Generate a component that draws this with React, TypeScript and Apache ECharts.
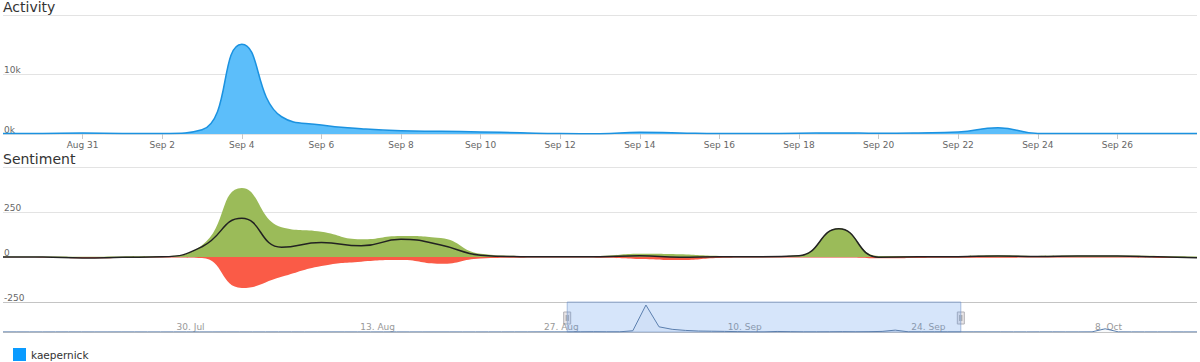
import React, { useEffect, useRef } from "react";
import * as echarts from "echarts";

// Main range: Aug 29 .. Sep 28 (daily)
const dates = [
  "Aug 29", "Aug 30", "Aug 31", "Sep 1", "Sep 2", "Sep 3", "Sep 4", "Sep 5", "Sep 6", "Sep 7",
  "Sep 8", "Sep 9", "Sep 10", "Sep 11", "Sep 12", "Sep 13", "Sep 14", "Sep 15", "Sep 16", "Sep 17",
  "Sep 18", "Sep 19", "Sep 20", "Sep 21", "Sep 22", "Sep 23", "Sep 24", "Sep 25", "Sep 26", "Sep 27",
  "Sep 28",
];
const mainTickLabels = [
  "Aug 31", "Sep 2", "Sep 4", "Sep 6", "Sep 8", "Sep 10", "Sep 12", "Sep 14",
  "Sep 16", "Sep 18", "Sep 20", "Sep 22", "Sep 24", "Sep 26",
];

const activity = [
  80, 100, 150, 100, 100, 700, 15100, 2900, 1500, 900,
  550, 450, 350, 200, 80, 60, 300, 180, 80, 80,
  120, 180, 120, 180, 340, 1050, 100, 90, 90, 90,
  90,
];

const positive = [
  3, 3, 2, 3, 5, 65, 383, 165, 140, 98,
  117, 105, 18, 6, 4, 6, 18, 15, 6, 4,
  10, 160, 6, 6, 6, 10, 6, 8, 8, 6,
  3,
];
const negative = [
  -2, -3, -7, -5, -3, -6, -172, -110, -50, -26,
  -17, -38, -8, -4, -3, -4, -11, -17, -5, -3,
  -3, -3, -7, -5, -4, -4, -3, -3, -3, -5,
  -6,
];
const net = [
  0, 0, -5, -2, 1, 57, 215, 54, 80, 62,
  98, 67, 10, 2, 1, 2, 7, -2, 1, 1,
  7, 157, -1, 1, 2, 6, 3, 5, 5, 1,
  -4,
];

// Navigator range: 17 Jul .. 16 Oct (daily)
const navDates = [
  "17. Jul", "18. Jul", "19. Jul", "20. Jul", "21. Jul", "22. Jul", "23. Jul", "24. Jul", "25. Jul", "26. Jul",
  "27. Jul", "28. Jul", "29. Jul", "30. Jul", "31. Jul",
  "1. Aug", "2. Aug", "3. Aug", "4. Aug", "5. Aug", "6. Aug", "7. Aug", "8. Aug", "9. Aug", "10. Aug",
  "11. Aug", "12. Aug", "13. Aug", "14. Aug", "15. Aug", "16. Aug", "17. Aug", "18. Aug", "19. Aug", "20. Aug",
  "21. Aug", "22. Aug", "23. Aug", "24. Aug", "25. Aug", "26. Aug", "27. Aug", "28. Aug", "29. Aug", "30. Aug",
  "31. Aug",
  "1. Sep", "2. Sep", "3. Sep", "4. Sep", "5. Sep", "6. Sep", "7. Sep", "8. Sep", "9. Sep", "10. Sep",
  "11. Sep", "12. Sep", "13. Sep", "14. Sep", "15. Sep", "16. Sep", "17. Sep", "18. Sep", "19. Sep", "20. Sep",
  "21. Sep", "22. Sep", "23. Sep", "24. Sep", "25. Sep", "26. Sep", "27. Sep", "28. Sep", "29. Sep", "30. Sep",
  "1. Oct", "2. Oct", "3. Oct", "4. Oct", "5. Oct", "6. Oct", "7. Oct", "8. Oct", "9. Oct", "10. Oct",
  "11. Oct", "12. Oct", "13. Oct", "14. Oct", "15. Oct", "16. Oct",
];
const navTickLabels = ["30. Jul", "13. Aug", "27. Aug", "10. Sep", "24. Sep", "8. Oct"];

// activity before the main range (17 Jul .. 28 Aug) and after it (29 Sep .. 16 Oct)
const navBefore = [
  60, 60, 50, 50, 60, 70, 60, 50, 50, 60,
  60, 50, 50, 60, 60, 50, 50, 60, 60, 50,
  50, 60, 60, 50, 50, 60, 60, 50, 50, 60,
  60, 50, 50, 60, 60, 50, 50, 60, 60, 70,
  70, 80, 80,
];
const navAfter = [
  90, 80, 80, 70, 70, 80, 80, 70, 70, 90,
  1800, 90, 70, 60, 60, 60, 50, 50,
];
const navValues = [...navBefore, ...activity, ...navAfter];

const selStart = "29. Aug";
const selEnd = "28. Sep";

const FONT = "DejaVu Sans";

export default function App() {
  const ref = useRef<HTMLDivElement>(null);

  useEffect(() => {
    document.body.style.margin = "0";
    const chart = echarts.init(ref.current!, null, { renderer: "svg" });

    const option: any = {
      animation: false,
      textStyle: { fontFamily: FONT },
      title: [
        {
          text: "Activity",
          left: 3,
          top: 0,
          padding: 0,
          textStyle: { fontSize: 14, fontWeight: "normal", color: "#333", fontFamily: FONT },
        },
        {
          text: "Sentiment",
          left: 3,
          top: 152,
          padding: 0,
          textStyle: { fontSize: 14, fontWeight: "normal", color: "#333", fontFamily: FONT },
        },
      ],
      legend: {
        data: [{ name: "kaepernick", icon: "rect", itemStyle: { color: "#0a9bff" } }],
        left: 8,
        top: 343,
        itemWidth: 13,
        itemHeight: 13,
        selectedMode: false,
        textStyle: { fontSize: 10.5, color: "#333", fontFamily: FONT },
      },
      grid: [
        { left: 3, right: 3, top: 15, height: 119 },
        { left: 3, right: 3, top: 167, height: 135 },
        { left: 3, right: 3, top: 302, height: 30 },
      ],
      xAxis: [
        {
          type: "category",
          gridIndex: 0,
          data: dates,
          boundaryGap: false,
          axisLine: { show: false },
          axisTick: {
            show: true,
            length: 5,
            interval: (_i: number, v: string) => mainTickLabels.includes(v),
            lineStyle: { color: "#c8c8c8" },
          },
          axisLabel: {
            interval: (_i: number, v: string) => mainTickLabels.includes(v),
            fontSize: 9,
            color: "#666",
            margin: 6,
            fontFamily: FONT,
          },
          splitLine: { show: false },
        },
        {
          type: "category",
          gridIndex: 1,
          data: dates,
          boundaryGap: false,
          axisLine: { show: false },
          axisTick: { show: false },
          axisLabel: { show: false },
          splitLine: { show: false },
        },
        {
          type: "category",
          gridIndex: 2,
          data: navDates,
          boundaryGap: false,
          axisLine: { show: false },
          axisTick: { show: false },
          axisLabel: {
            interval: (_i: number, v: string) => navTickLabels.includes(v),
            inside: false,
            margin: -10,
            align: "left",
            verticalAlign: "top",
            padding: [0, 0, 0, 3],
            fontSize: 9,
            color: "#999",
            fontFamily: FONT,
          },
          splitLine: { show: false },
        },
      ],
      yAxis: [
        {
          type: "value",
          gridIndex: 0,
          min: 0,
          max: 20000,
          interval: 10000,
          axisLine: { show: false },
          axisTick: { show: false },
          axisLabel: {
            inside: true,
            margin: 1,
            verticalAlign: "bottom",
            fontSize: 9,
            color: "#666",
            fontFamily: FONT,
            formatter: (v: number) => (v === 20000 ? "" : v / 1000 + "k"),
          },
          splitLine: { lineStyle: { color: "#e3e3e3" } },
        },
        {
          type: "value",
          gridIndex: 1,
          min: -250,
          max: 500,
          interval: 250,
          axisLine: { show: false },
          axisTick: { show: false },
          axisLabel: {
            inside: true,
            margin: 1,
            verticalAlign: "bottom",
            fontSize: 9,
            color: "#666",
            fontFamily: FONT,
            formatter: (v: number) => (v === 500 ? "" : String(v)),
          },
          splitLine: { lineStyle: { color: "#e3e3e3" } },
        },
        {
          type: "value",
          gridIndex: 2,
          min: 0,
          max: 16800,
          interval: 16800,
          axisLine: { show: false },
          axisTick: { show: false },
          axisLabel: { show: false },
          splitLine: { show: true, lineStyle: { color: "#c4c4c4" } },
        },
      ],
      series: [
        {
          name: "kaepernick",
          type: "line",
          xAxisIndex: 0,
          yAxisIndex: 0,
          data: activity,
          smooth: 0.5,
          symbol: "none",
          lineStyle: { color: "#1b92e0", width: 1.5 },
          itemStyle: { color: "#0a9bff" },
          areaStyle: { color: "#5cbefa", opacity: 1 },
        },
        {
          name: "positive",
          type: "line",
          xAxisIndex: 1,
          yAxisIndex: 1,
          data: positive,
          smooth: 0.5,
          symbol: "none",
          lineStyle: { width: 0, color: "#9bbb59" },
          areaStyle: { color: "#9bbb59", opacity: 1 },
        },
        {
          name: "negative",
          type: "line",
          xAxisIndex: 1,
          yAxisIndex: 1,
          data: negative,
          smooth: 0.5,
          symbol: "none",
          lineStyle: { width: 0, color: "#fa5b47" },
          areaStyle: { color: "#fa5b47", opacity: 1 },
        },
        {
          name: "net",
          type: "line",
          xAxisIndex: 1,
          yAxisIndex: 1,
          data: net,
          smooth: 0.5,
          symbol: "none",
          z: 5,
          lineStyle: { color: "#222", width: 1.5 },
        },
        {
          name: "navigator",
          type: "line",
          xAxisIndex: 2,
          yAxisIndex: 2,
          data: navValues,
          symbol: "none",
          lineStyle: { color: "#5b7fae", width: 1 },
          areaStyle: { color: "rgba(69,114,167,0.05)" },
          markArea: {
            silent: true,
            itemStyle: {
              color: "rgba(90,150,235,0.25)",
              borderColor: "rgba(120,150,200,0.6)",
              borderWidth: 1,
            },
            data: [[{ xAxis: selStart }, { xAxis: selEnd }]],
          },
        },
      ],
    };

    chart.setOption(option);

    const x0 = chart.convertToPixel({ xAxisIndex: 2 }, selStart) as number;
    const x1 = chart.convertToPixel({ xAxisIndex: 2 }, selEnd) as number;
    const handle = (cx: number) => ({
      type: "group",
      children: [
        {
          type: "rect",
          shape: { x: cx - 3.5, y: 312, width: 7, height: 12 },
          style: { fill: "#ebe7e8", stroke: "#b2b1b6", lineWidth: 1 },
        },
        {
          type: "line",
          shape: { x1: cx - 1, y1: 315, x2: cx - 1, y2: 321 },
          style: { stroke: "#999", lineWidth: 1 },
        },
        {
          type: "line",
          shape: { x1: cx + 1, y1: 315, x2: cx + 1, y2: 321 },
          style: { stroke: "#999", lineWidth: 1 },
        },
      ],
    });
    chart.setOption({ graphic: [handle(x0), handle(x1)] });

    return () => chart.dispose();
  }, []);

  return (
    <div
      ref={ref}
      style={{ position: "absolute", left: 0, top: 0, width: 1200, height: 362 }}
    />
  );
}
